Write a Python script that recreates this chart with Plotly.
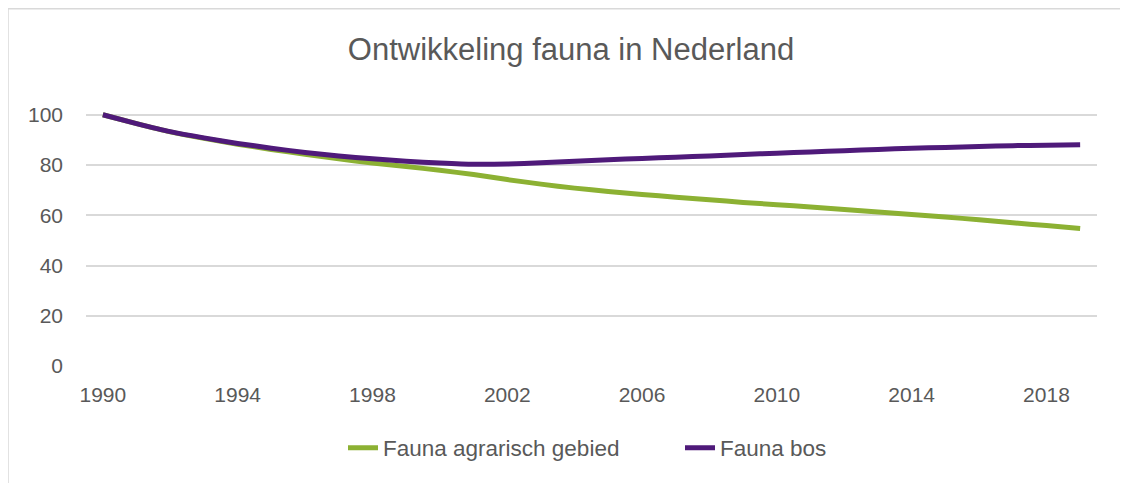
import plotly.graph_objects as go

years = list(range(1990, 2020))
agrarisch = [100, 96.5, 93.2, 90.6, 88.3, 86.2, 84.3, 82.5, 80.8, 79.4,
             77.9, 76.2, 74.2, 72.4, 70.8, 69.5, 68.3, 67.2, 66.2, 65.1,
             64.2, 63.3, 62.3, 61.3, 60.3, 59.3, 58.2, 57.0, 55.9, 54.7]
bos = [100, 96.5, 93.3, 90.8, 88.6, 86.7, 85.0, 83.6, 82.5, 81.5,
       80.8, 80.3, 80.4, 80.9, 81.5, 82.1, 82.6, 83.1, 83.6, 84.2,
       84.7, 85.2, 85.7, 86.2, 86.7, 87.0, 87.4, 87.7, 87.9, 88.1]
x_ticks = [1990, 1994, 1998, 2002, 2006, 2010, 2014, 2018]
y_ticks = [0, 20, 40, 60, 80, 100]

FONT = "Liberation Sans"
TXT = "#595959"

fig = go.Figure()
fig.add_trace(go.Scatter(x=years, y=agrarisch, mode="lines", name="Fauna agrarisch gebied",
                         line=dict(color="#8cb133", width=5, shape="spline", smoothing=0.6)))
fig.add_trace(go.Scatter(x=years, y=bos, mode="lines", name="Fauna bos",
                         line=dict(color="#4f1a7a", width=5, shape="spline", smoothing=0.6)))

OFF = 8  # page body margin
W, H = 1128 - OFF, 483 - OFF
# target page-pixel positions of the plot area
left_p, right_p, bottom_p = 86, 1097, 366
top_p = 366 - 101.5 * 2.51
ml = left_p - OFF
mr = W - (right_p - OFF)
mt = top_p - OFF
mb = H - (bottom_p - OFF)
ph = bottom_p - top_p
pw = right_p - left_p

def px_x(p):
    return (p - left_p) / pw

def px_y(p):
    return (bottom_p - p) / ph

fig.update_layout(
    width=W, height=H,
    margin=dict(l=ml, r=mr, t=mt, b=mb, pad=0),
    paper_bgcolor="white", plot_bgcolor="white",
    font=dict(family=FONT, color=TXT, size=21),
    title=dict(text="Ontwikkeling fauna in Nederland", x=(571 - OFF) / W, xanchor="center",
               y=1 - (49 - OFF) / H, yanchor="middle", font=dict(size=31, color=TXT, family=FONT)),
    xaxis=dict(range=[1989.5, 2019.5], tickvals=x_ticks, showgrid=False, zeroline=False,
               showline=False, ticks="", ticklabelstandoff=14,
               tickfont=dict(size=21, color=TXT)),
    yaxis=dict(range=[0, 101.5], tickvals=y_ticks, showgrid=True, gridcolor="#d9d9d9",
               gridwidth=1.5, zeroline=False, showline=False, ticks="", ticklabelstandoff=22,
               tickfont=dict(size=21, color=TXT)),
    legend=dict(orientation="h", x=px_x(343), xanchor="left", y=px_y(448), yanchor="middle",
                font=dict(size=22.5, color=TXT), itemwidth=30, entrywidth=292,
                entrywidthmode="pixels", tracegroupgap=0, borderwidth=0),
    shapes=[dict(type="rect", xref="paper", yref="paper",
                 x0=px_x(8), x1=px_x(1300), y0=px_y(700), y1=px_y(9),
                 line=dict(color="#d9d9d9", width=1.5), fillcolor="rgba(0,0,0,0)", layer="below")],
)

fig.write_html("out.html")
